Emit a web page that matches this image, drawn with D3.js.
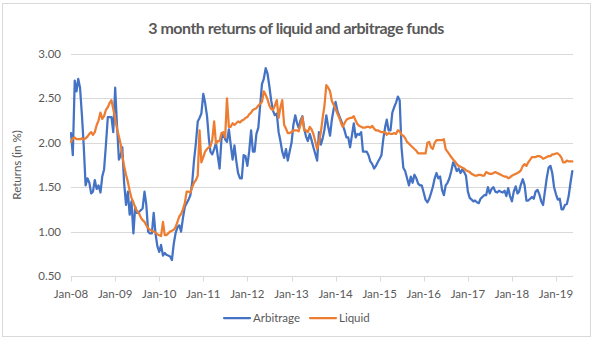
<!DOCTYPE html>
<html>
<head>
<meta charset="utf-8">
<script src="https://cdn.jsdelivr.net/npm/d3@7"></script>
<style>
  html, body { margin: 0; padding: 0; background: #fff; }
  svg { display: block; font-family: Lato, "Open Sans", sans-serif; }
</style>
</head>
<body>
<div id="chart"></div>
<script>
// -------- Data (semi-monthly readings, from Jan-08) --------
const tickLabels = ['Jan-08','Jan-09','Jan-10','Jan-11','Jan-12','Jan-13','Jan-14','Jan-15','Jan-16','Jan-17','Jan-18','Jan-19'];
const yTicks = [0.5, 1.0, 1.5, 2.0, 2.5, 3.0];
const seriesNames = ['Arbitrage', 'Liquid'];

const arbitrage = [
  2.11,1.86,2.70,2.58,2.72,2.62,2.30,1.95,1.52,1.60,
  1.55,1.43,1.45,1.58,1.48,1.52,1.44,1.62,1.70,1.97,
  2.29,2.29,2.29,2.12,2.62,2.20,1.81,1.86,1.95,1.55,
  1.30,1.45,1.19,1.34,0.98,1.28,1.21,1.22,1.24,1.26,
  1.45,1.30,1.00,0.98,0.98,1.21,0.98,0.84,0.77,0.85,
  0.73,0.76,0.74,0.73,0.72,0.68,0.86,0.98,1.05,1.07,
  1.00,1.15,1.28,1.32,1.36,1.41,1.55,1.80,2.00,2.24,
  2.28,2.33,2.55,2.45,2.30,2.05,1.90,1.87,1.93,2.00,
  1.85,1.71,2.05,2.10,2.04,2.01,2.15,1.98,1.81,1.97,
  1.80,1.66,1.60,1.60,1.86,1.85,1.74,1.90,2.14,1.90,
  1.90,2.10,2.17,2.42,2.66,2.72,2.84,2.78,2.64,2.48,
  2.36,2.31,2.33,2.12,2.02,1.90,1.83,1.93,1.80,1.90,
  2.00,2.20,2.31,2.22,2.17,2.25,2.30,2.16,2.07,2.02,
  2.10,2.03,1.95,1.88,1.80,2.12,1.98,2.05,2.15,2.31,
  2.18,2.08,2.26,2.38,2.46,2.36,2.30,2.25,2.20,2.14,
  2.06,2.06,1.95,2.08,2.22,2.06,2.10,2.09,2.12,1.90,
  1.90,1.90,1.86,1.79,1.76,1.71,1.74,1.78,1.82,1.86,
  2.05,2.18,2.26,2.14,2.14,2.34,2.40,2.45,2.52,2.48,
  1.95,1.72,1.68,1.60,1.52,1.62,1.55,1.64,1.60,1.54,
  1.52,1.52,1.44,1.36,1.33,1.37,1.43,1.50,1.60,1.66,
  1.60,1.62,1.47,1.41,1.52,1.55,1.60,1.68,1.78,1.74,
  1.68,1.71,1.66,1.70,1.67,1.63,1.45,1.38,1.36,1.34,
  1.35,1.33,1.32,1.37,1.39,1.41,1.41,1.50,1.43,1.48,
  1.50,1.45,1.44,1.46,1.45,1.44,1.46,1.40,1.49,1.40,
  1.34,1.45,1.51,1.43,1.45,1.53,1.59,1.52,1.35,1.35,
  1.37,1.39,1.37,1.45,1.47,1.42,1.34,1.30,1.45,1.60,
  1.72,1.74,1.66,1.50,1.42,1.36,1.37,1.25,1.25,1.30,
  1.31,1.40,1.55,1.68
];

const liquid = [
  2.01,2.05,2.06,2.04,2.04,2.04,2.05,2.04,2.05,2.07,
  2.10,2.12,2.09,2.12,2.20,2.25,2.34,2.27,2.30,2.37,
  2.40,2.45,2.48,2.38,2.27,2.16,2.07,1.98,1.85,1.74,
  1.64,1.56,1.46,1.38,1.33,1.27,1.23,1.21,1.16,1.13,
  1.11,1.07,1.04,1.02,1.01,1.00,0.99,0.97,0.96,0.95,
  1.11,0.96,0.96,0.98,1.00,1.01,1.02,1.05,1.11,1.17,
  1.20,1.25,1.32,1.45,1.45,1.44,1.50,1.55,1.58,1.63,
  2.14,1.78,1.84,1.90,1.93,1.95,1.96,2.03,2.24,1.99,
  2.02,2.02,2.11,2.12,2.06,2.50,2.18,2.18,2.22,2.20,
  2.22,2.24,2.23,2.25,2.26,2.28,2.29,2.32,2.34,2.37,
  2.38,2.39,2.42,2.44,2.46,2.58,2.54,2.49,2.42,2.38,
  2.37,2.42,2.48,2.28,2.40,2.48,2.20,2.16,2.11,2.11,
  2.12,2.14,2.14,2.14,2.13,2.20,2.29,2.14,2.14,2.12,
  2.18,2.15,2.10,2.02,1.93,2.00,2.12,2.28,2.42,2.65,
  2.62,2.58,2.47,2.43,2.38,2.33,2.28,2.22,2.18,2.22,
  2.26,2.27,2.28,2.28,2.30,2.25,2.21,2.19,2.18,2.17,
  2.17,2.18,2.18,2.17,2.19,2.16,2.14,2.14,2.13,2.12,
  2.12,2.12,2.09,2.11,2.10,2.10,2.11,2.10,2.14,2.13,
  2.09,2.08,2.05,2.01,1.99,1.97,1.95,1.93,1.91,1.88,
  1.88,1.88,1.88,1.88,2.00,2.01,1.95,1.93,2.00,2.03,
  2.03,2.03,2.03,2.04,1.93,1.90,1.87,1.84,1.81,1.79,
  1.76,1.74,1.73,1.72,1.71,1.69,1.68,1.67,1.65,1.64,
  1.63,1.63,1.64,1.64,1.63,1.63,1.67,1.66,1.65,1.65,
  1.66,1.67,1.66,1.65,1.64,1.63,1.62,1.62,1.60,1.61,
  1.63,1.64,1.65,1.66,1.67,1.69,1.74,1.76,1.74,1.78,
  1.81,1.84,1.84,1.84,1.85,1.85,1.84,1.82,1.83,1.84,
  1.85,1.85,1.87,1.87,1.88,1.88,1.86,1.83,1.78,1.78,
  1.80,1.79,1.79,1.79
];

// dates: 1st and 16th of each month
const dates = arbitrage.map((_, i) => new Date(2008, Math.floor(i / 2), i % 2 ? 16 : 1));
const tickDates = tickLabels.map((_, i) => new Date(2008 + i, 0, 1));

// -------- Dimensions --------
const W = 594, H = 340;
const plot = { left: 71, right: 573, top: 54, bottom: 276 };

const svg = d3.select('#chart').append('svg')
  .attr('width', W).attr('height', H);

// chart area
svg.append('rect')
  .attr('x', 2.5).attr('y', 3.5)
  .attr('width', 588).attr('height', 333)
  .attr('fill', '#fff').attr('stroke', '#d9d9d9');

// -------- Scales --------
const x = d3.scaleTime()
  .domain([tickDates[0], tickDates[tickDates.length - 1]])
  .range([plot.left, 556]);

const y = d3.scaleLinear()
  .domain([0.5, 3.0])
  .range([plot.bottom, plot.top]);

// -------- Gridlines & y labels --------
const grid = svg.append('g');
grid.selectAll('line')
  .data(yTicks.slice(1))
  .join('line')
    .attr('x1', plot.left).attr('x2', plot.right)
    .attr('y1', d => Math.round(y(d)) + 0.5)
    .attr('y2', d => Math.round(y(d)) + 0.5)
    .attr('stroke', '#d9d9d9').attr('stroke-width', 1);

svg.append('g').selectAll('text')
  .data(yTicks)
  .join('text')
    .attr('x', 61)
    .attr('y', d => y(d) + 4)
    .attr('text-anchor', 'end')
    .attr('font-size', 11.5)
    .attr('fill', '#595959')
    .text(d => d3.format('.2f')(d));

// -------- x axis --------
const xAxis = svg.append('g')
  .attr('transform', `translate(0,${Math.round(plot.bottom) + 0.5})`);
xAxis.append('line')
  .attr('x1', plot.left).attr('x2', plot.right)
  .attr('stroke', '#d9d9d9');
xAxis.selectAll('line.tick')
  .data(tickDates)
  .join('line')
    .attr('class', 'tick')
    .attr('x1', d => Math.round(x(d)) + 0.5)
    .attr('x2', d => Math.round(x(d)) + 0.5)
    .attr('y1', 0).attr('y2', 5)
    .attr('stroke', '#d9d9d9');
xAxis.selectAll('text')
  .data(tickDates)
  .join('text')
    .attr('x', d => x(d))
    .attr('y', 21)
    .attr('text-anchor', 'middle')
    .attr('font-size', 11.5)
    .attr('fill', '#595959')
    .text((d, i) => tickLabels[i]);

// -------- Lines --------
const colors = { Arbitrage: '#4472c4', Liquid: '#ed7d31' };
const series = [
  { name: 'Arbitrage', values: arbitrage },
  { name: 'Liquid', values: liquid }
];

const line = d3.line()
  .x((d, i) => x(dates[i]))
  .y(d => y(d));

svg.append('g').selectAll('path')
  .data(series)
  .join('path')
    .attr('d', d => line(d.values))
    .attr('fill', 'none')
    .attr('stroke', d => colors[d.name])
    .attr('stroke-width', 2.25)
    .attr('stroke-linejoin', 'round')
    .attr('stroke-linecap', 'round');

// -------- Titles --------
svg.append('text')
  .attr('x', 296).attr('y', 34)
  .attr('text-anchor', 'middle')
  .attr('font-size', 16)
  .attr('font-weight', 'bold')
  .attr('letter-spacing', -0.5)
  .attr('fill', '#595959')
  .text('3 month returns of liquid and arbitrage funds');

svg.append('text')
  .attr('transform', `translate(21,${(plot.top + plot.bottom) / 2}) rotate(-90)`)
  .attr('text-anchor', 'middle')
  .attr('font-size', 11.5)
  .attr('fill', '#595959')
  .text('Returns (in %)');

// -------- Legend --------
const legend = svg.append('g').attr('transform', 'translate(224,318)');
const legendX = [0, 86];
const items = legend.selectAll('g')
  .data(seriesNames)
  .join('g')
    .attr('transform', (d, i) => `translate(${legendX[i]},0)`);
items.append('line')
  .attr('x1', 0).attr('x2', 26)
  .attr('y1', 0).attr('y2', 0)
  .attr('stroke', d => colors[d])
  .attr('stroke-width', 2.25)
  .attr('stroke-linecap', 'round');
items.append('text')
  .attr('x', 29).attr('y', 4)
  .attr('font-size', 11.5)
  .attr('fill', '#595959')
  .text(d => d);
</script>
</body>
</html>
